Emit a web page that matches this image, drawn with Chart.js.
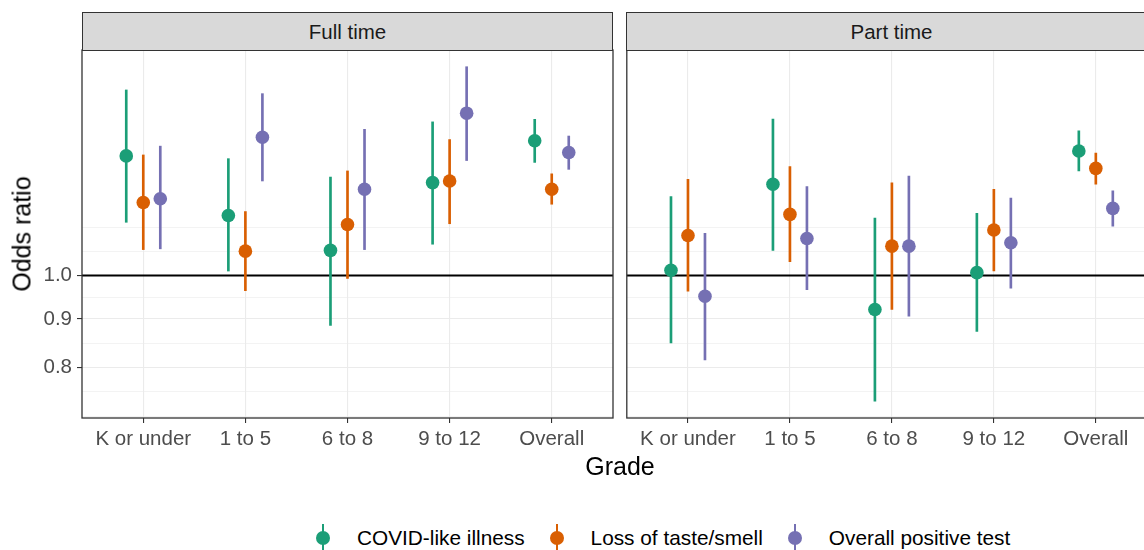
<!DOCTYPE html>
<html>
<head>
<meta charset="utf-8">
<script src="https://cdn.jsdelivr.net/npm/chart.js@4.4.1/dist/chart.umd.min.js"></script>
<style>
  html, body { margin: 0; padding: 0; background: #fff; }
  #wrap { position: relative; width: 1144px; height: 550px; overflow: hidden;
          font-family: "Liberation Sans", Arial, sans-serif; }
  canvas { position: absolute; top: 0; }
  .strip { position: absolute; top: 12px; height: 39px; width: 531px; box-sizing: border-box;
           background: #d9d9d9; border: 1.3px solid #333; color: #1a1a1a;
           font-size: 20.5px; text-align: center; line-height: 37px; }
  .axis-title { position: absolute; color: #000; font-size: 25px; white-space: nowrap; }
  #ytitle { left: 22px; top: 234px; transform: translate(-50%, -50%) rotate(-90deg); }
  #xtitle { left: 620px; top: 466px; transform: translate(-50%, -50%); }
  #legend { position: absolute; top: 524px; left: 316px; display: flex; align-items: center; height: 28px; }
  .item { display: flex; align-items: center; margin-right: 25px; }
  .key { position: relative; width: 14px; height: 28px; }
  .key .bar { position: absolute; left: 6px; top: 0; width: 2px; height: 28px; }
  .key .dot { position: absolute; left: 0; top: 7px; width: 14px; height: 14px; border-radius: 50%; }
  .label { margin-left: 27px; font-size: 20.8px; color: #000; }
</style>
</head>
<body>
<div id="wrap">
  <canvas id="full" width="620" height="460" style="left:0px"></canvas>
  <canvas id="part" width="546" height="460" style="left:620px"></canvas>
  <div class="strip" style="left:82px">Full time</div>
  <div class="strip" style="left:626px">Part time</div>
  <div class="axis-title" id="ytitle">Odds ratio</div>
  <div class="axis-title" id="xtitle">Grade</div>
  <div id="legend"></div>
</div>
<script>
const grades = ['K or under', '1 to 5', '6 to 8', '9 to 12', 'Overall'];
const seriesNames = ['COVID-like illness', 'Loss of taste/smell', 'Overall positive test'];
const seriesColors = ['#1B9E77', '#D95F02', '#7570B3'];
const yBreaks = [0.8, 0.9, 1.0];
const refLine = 1.0;

// Full time: estimate, lower, upper
const fullCovid     = [1.337, 1.157, 1.063, 1.253, 1.387];
const fullCovidLow  = [1.138, 1.011, 0.886, 1.079, 1.316];
const fullCovidHigh = [1.569, 1.328, 1.270, 1.452, 1.461];
const fullTaste     = [1.194, 1.061, 1.132, 1.258, 1.233];
const fullTasteLow  = [1.065, 0.964, 0.993, 1.134, 1.189];
const fullTasteHigh = [1.340, 1.168, 1.289, 1.391, 1.280];
const fullTest      = [1.205, 1.399, 1.233, 1.483, 1.348];
const fullTestLow   = [1.067, 1.258, 1.065, 1.322, 1.294];
const fullTestHigh  = [1.369, 1.555, 1.426, 1.660, 1.403];

// Part time
const partCovid     = [1.013, 1.248, 0.921, 1.007, 1.353];
const partCovidLow  = [0.849, 1.063, 0.737, 0.873, 1.289];
const partCovidHigh = [1.211, 1.462, 1.150, 1.163, 1.421];
const partTaste     = [1.102, 1.160, 1.074, 1.117, 1.297];
const partTasteLow  = [0.963, 1.034, 0.921, 1.011, 1.248];
const partTasteHigh = [1.263, 1.303, 1.252, 1.233, 1.346];
const partTest      = [0.951, 1.094, 1.074, 1.083, 1.177];
const partTestLow   = [0.815, 0.966, 0.906, 0.970, 1.127];
const partTestHigh  = [1.108, 1.241, 1.273, 1.207, 1.228];

const fullGroups = [[fullCovid, fullCovidLow, fullCovidHigh], [fullTaste, fullTasteLow, fullTasteHigh], [fullTest, fullTestLow, fullTestHigh]];
const partGroups = [[partCovid, partCovidLow, partCovidHigh], [partTaste, partTasteLow, partTasteHigh], [partTest, partTestLow, partTestHigh]];

// shared log y range, 5% expansion like ggplot
const allVals = [...fullGroups, ...partGroups].flat(2);
const lmin = Math.log(Math.min(...allVals)), lmax = Math.log(Math.max(...allVals));
const lpad = (lmax - lmin) * 0.05;
const yMin = Math.exp(lmin - lpad), yMax = Math.exp(lmax + lpad);

// major + minor breaks (midpoints in log space, one step beyond the ends)
const lb = yBreaks.map(Math.log);
const step = lb[1] - lb[0];
const ext = [lb[0] - step, ...lb, lb[lb.length - 1] + step];
const yTicks = [];
ext.forEach((v, i) => {
  if (i > 0) yTicks.push(Math.exp((ext[i - 1] + v) / 2));
  yTicks.push(Math.exp(v));
});
const gridTicks = yTicks.filter(v => v >= yMin && v <= yMax);
const isMajor = v => yBreaks.some(b => Math.abs(b - v) < 1e-6);

const dodge = 0.5;

const panelDeco = {
  id: 'panelDeco',
  beforeDatasetsDraw(chart) {
    const { ctx, chartArea, scales } = chart;
    const y = scales.y.getPixelForValue(refLine);
    ctx.save();
    ctx.strokeStyle = '#000';
    ctx.lineWidth = 2;
    ctx.beginPath();
    ctx.moveTo(chartArea.left, y);
    ctx.lineTo(chartArea.right, y);
    ctx.stroke();
    ctx.restore();
  },
  afterDraw(chart) {
    const { ctx, chartArea } = chart;
    ctx.save();
    ctx.strokeStyle = '#333';
    ctx.lineWidth = 1.3;
    ctx.strokeRect(chartArea.left, chartArea.top, chartArea.right - chartArea.left, chartArea.bottom - chartArea.top);
    ctx.restore();
  }
};

function buildPanel(id, groups, showY) {
  const datasets = [];
  groups.forEach(([est, lo, hi], k) => {
    const off = (k - 1) * dodge / 3;
    datasets.push({
      type: 'scatter',
      label: seriesNames[k],
      data: est.map((v, i) => ({ x: i + 1 + off, y: v })),
      backgroundColor: seriesColors[k],
      borderWidth: 0,
      pointRadius: 6.8,
      pointHoverRadius: 6.8,
      order: 0
    });
    datasets.push({
      type: 'bar',
      label: seriesNames[k] + ' CI',
      data: est.map((v, i) => ({ x: i + 1 + off, y: [lo[i], hi[i]] })),
      backgroundColor: seriesColors[k],
      borderWidth: 0,
      borderSkipped: false,
      barThickness: 2,
      grouped: false,
      order: 1
    });
  });

  return new Chart(document.getElementById(id), {
    type: 'scatter',
    data: { datasets },
    plugins: [panelDeco],
    options: {
      responsive: false,
      animation: false,
      events: [],
      layout: { padding: showY ? { top: 50, right: 7, left: 0, bottom: 0 } : { top: 50, right: 9, left: 6, bottom: 0 } },
      plugins: { legend: { display: false }, tooltip: { enabled: false } },
      scales: {
        x: {
          type: 'linear',
          min: 0.4,
          max: 5.6,
          offset: false,
          bounds: 'data',
          afterBuildTicks: s => { s.ticks = grades.map((g, i) => ({ value: i + 1 })); },
          afterFit: s => { s.height = 42; },
          border: { display: false },
          grid: { offset: false, color: '#EBEBEB', lineWidth: 1.1, tickColor: '#333', tickLength: 5, tickWidth: 1.1 },
          ticks: {
            autoSkip: false,
            maxRotation: 0,
            padding: 4,
            color: '#4D4D4D',
            font: { family: 'Liberation Sans', size: 20.5 },
            callback: v => grades[Math.round(v) - 1]
          }
        },
        y: {
          type: 'logarithmic',
          min: yMin,
          max: yMax,
          bounds: 'data',
          afterBuildTicks: s => { s.ticks = gridTicks.map(v => ({ value: v })); },
          afterFit: s => { s.width = showY ? 82 : 0; },
          border: { display: false },
          grid: {
            color: '#EBEBEB',
            lineWidth: c => (c.tick && isMajor(c.tick.value)) ? 1.1 : 0.6,
            drawTicks: showY,
            tickLength: 5,
            tickWidth: 1.1,
            tickColor: c => (c.tick && isMajor(c.tick.value)) ? '#333' : 'rgba(0,0,0,0)'
          },
          ticks: {
            display: showY,
            autoSkip: false,
            padding: 5,
            color: '#4D4D4D',
            font: { family: 'Liberation Sans', size: 20.5 },
            callback: v => isMajor(v) ? v.toFixed(1) : ''
          }
        }
      }
    }
  });
}

buildPanel('full', fullGroups, true);
buildPanel('part', partGroups, false);

// legend
const legend = document.getElementById('legend');
seriesNames.forEach((name, k) => {
  const item = document.createElement('div');
  item.className = 'item';
  item.innerHTML = '<div class="key"><div class="bar" style="background:' + seriesColors[k] +
    '"></div><div class="dot" style="background:' + seriesColors[k] + '"></div></div>' +
    '<span class="label">' + name + '</span>';
  legend.appendChild(item);
});
</script>
</body>
</html>
